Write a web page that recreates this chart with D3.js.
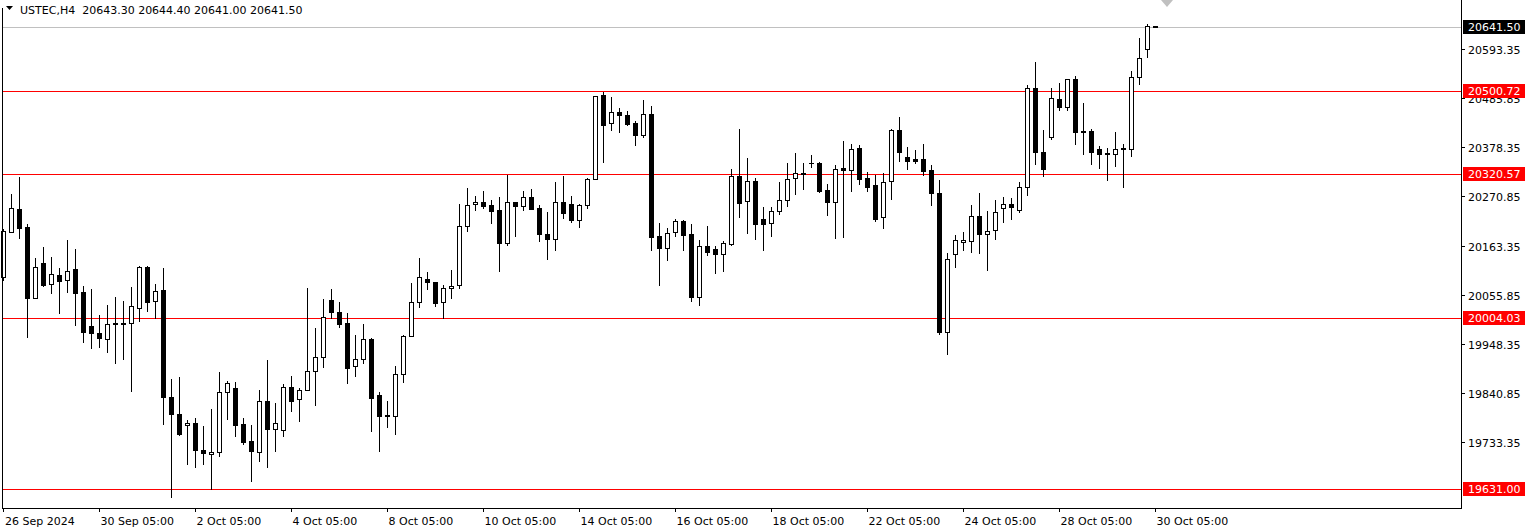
<!DOCTYPE html>
<html>
<head>
<meta charset="utf-8">
<script src="https://cdn.jsdelivr.net/npm/d3@7"></script>
<style>
body { margin: 0; background: #fff; }
text { font-family: "DejaVu Sans", sans-serif; font-size: 11px; }
</style>
</head>
<body>
<svg id="chart" width="1533" height="531"></svg>
<script>
// H4 candles, [open, high, low, close], from 26 Sep 05:00
var candles = [
	[20095,20200,20089,20196],[20194,20277,20194,20246],[20244,20314,20180,20202],[20205,20211,19964,20049],
	[20049,20137,20049,20117],[20126,20161,20075,20078],[20080,20139,20060,20102],[20100,20115,20016,20086],
	[20089,20176,20062,20108],[20113,20156,19990,20060],[20062,20075,19953,19975],[19988,20069,19940,19973],
	[19973,20012,19942,19962],[19960,20034,19931,19992],[19995,20051,19907,19992],[19995,20043,19916,19992],
	[19995,20073,19846,20032],[20027,20119,19999,20117],[20117,20119,20021,20040],[20043,20080,20006,20065],
	[20067,20115,19774,19833],[19833,19872,19614,19796],[19796,19877,19750,19752],[19772,19782,19686,19776],
	[19776,19787,19680,19717],[19717,19769,19686,19710],[19708,19807,19631,19712],[19712,19887,19704,19844],
	[19844,19868,19785,19863],[19852,19866,19748,19772],[19774,19787,19730,19734],[19737,19772,19649,19715],
	[19712,19848,19693,19824],[19824,19914,19680,19763],[19763,19820,19715,19776],[19761,19861,19748,19855],
	[19855,19879,19802,19824],[19828,19852,19780,19848],[19848,20071,19848,19890],[19890,19984,19815,19920],
	[19920,20047,19898,20008],[20045,20069,20006,20019],[20019,20040,19986,19992],[19995,20016,19863,19896],
	[19901,19968,19879,19916],[19916,19992,19907,19960],[19960,19962,19758,19831],[19837,19844,19715,19791],
	[19793,19824,19767,19791],[19791,19901,19752,19883],[19883,19968,19866,19966],[19966,20082,19966,20040],
	[20040,20137,20030,20095],[20091,20106,20069,20084],[20084,20084,20032,20038],[20040,20078,20006,20071],
	[20071,20111,20049,20075],[20078,20255,20071,20207],[20207,20290,20196,20253],[20255,20272,20242,20259],
	[20259,20283,20246,20250],[20253,20264,20213,20239],[20242,20270,20108,20170],[20170,20318,20165,20259],
	[20259,20259,20185,20250],[20250,20283,20242,20270],[20270,20288,20244,20244],[20246,20253,20174,20189],
	[20189,20237,20135,20178],[20178,20303,20154,20259],[20259,20316,20224,20235],[20255,20272,20215,20220],
	[20220,20255,20205,20253],[20253,20312,20246,20309],[20309,20491,20309,20491],[20493,20499,20347,20427],
	[20432,20488,20416,20456],[20456,20465,20412,20449],[20449,20458,20427,20430],[20432,20436,20384,20405],
	[20405,20482,20401,20451],[20451,20469,20154,20183],[20185,20213,20078,20159],[20159,20202,20132,20191],
	[20194,20222,20185,20218],[20218,20220,20154,20187],[20189,20211,20043,20051],[20051,20176,20034,20163],
	[20163,20207,20143,20150],[20156,20163,20104,20146],[20146,20174,20108,20170],[20167,20331,20165,20316],
	[20316,20419,20226,20257],[20261,20355,20191,20305],[20305,20312,20178,20211],[20222,20248,20154,20211],
	[20213,20248,20185,20239],[20239,20303,20233,20264],[20264,20344,20250,20309],[20312,20366,20277,20323],
	[20320,20344,20288,20323],[20344,20362,20336,20345],[20344,20347,20281,20283],[20285,20299,20231,20259],
	[20259,20340,20180,20331],[20334,20392,20183,20329],[20329,20386,20283,20375],[20377,20384,20299,20309],
	[20312,20325,20283,20292],[20296,20318,20218,20222],[20226,20323,20202,20303],[20305,20419,20266,20416],
	[20416,20445,20349,20368],[20358,20379,20331,20349],[20353,20373,20344,20349],[20353,20386,20318,20327],
	[20329,20340,20253,20279],[20279,20307,19971,19975],[19975,20148,19927,20135],[20146,20187,20117,20176],
	[20172,20194,20154,20176],[20174,20253,20150,20229],[20229,20279,20148,20189],[20189,20239,20111,20196],
	[20198,20264,20178,20237],[20246,20270,20215,20255],[20255,20268,20222,20248],[20242,20303,20237,20292],
	[20292,20515,20274,20508],[20508,20565,20342,20368],[20368,20416,20316,20331],[20401,20508,20397,20486],
	[20484,20519,20460,20467],[20467,20528,20460,20528],[20528,20534,20386,20412],[20414,20475,20364,20412],
	[20414,20419,20342,20368],[20375,20381,20334,20364],[20364,20377,20307,20365],[20364,20412,20338,20375],
	[20375,20386,20292,20376],[20375,20545,20360,20532],[20532,20617,20517,20574],[20593,20648,20576,20643.3],
	[20643.3,20644.4,20641.0,20641.5]
];

var levels = [20500.72, 20320.57, 20004.03, 19631.00];
var lastPrice = 20641.50;
var priceTicks = [20593.35, 20485.85, 20378.35, 20270.85, 20163.35, 20055.85, 19948.35, 19840.85, 19733.35];
var timeLabels = ["26 Sep 2024", "30 Sep 05:00", "2 Oct 05:00", "4 Oct 05:00", "8 Oct 05:00", "10 Oct 05:00",
	"14 Oct 05:00", "16 Oct 05:00", "18 Oct 05:00", "22 Oct 05:00", "24 Oct 05:00", "28 Oct 05:00", "30 Oct 05:00"];
var header = "USTEC,H4  20643.30 20644.40 20641.00 20641.50";

var svg = d3.select("#chart");
var plotRight = 1461, plotBottom = 508;

var x = d3.scaleLinear().domain([0, 1]).range([3, 11]);
var y = d3.scaleLinear().domain([19631, 20641.5]).range([489, 27]);

// price levels
svg.selectAll("line.level").data(levels).enter().append("line")
	.attr("x1", 2).attr("x2", plotRight)
	.attr("y1", function (d) { return Math.round(y(d)) + 0.5; })
	.attr("y2", function (d) { return Math.round(y(d)) + 0.5; })
	.attr("stroke", "#ff0000").attr("stroke-width", 1);

svg.append("line")
	.attr("x1", 2).attr("x2", plotRight)
	.attr("y1", Math.round(y(lastPrice)) + 0.5).attr("y2", Math.round(y(lastPrice)) + 0.5)
	.attr("stroke", "#c0c0c0");

// candles
var g = svg.append("g");
candles.forEach(function (c, i) {
	var cx = Math.round(x(i)) + 0.5;
	var bull = c[3] >= c[0];
	g.append("line")
		.attr("x1", cx).attr("x2", cx)
		.attr("y1", Math.round(y(c[1]))).attr("y2", Math.round(y(c[2])) + 1)
		.attr("stroke", "#000");
	var top = Math.round(y(Math.max(c[0], c[3])));
	var bot = Math.round(y(Math.min(c[0], c[3])));
	if (bot - top < 1) {
		g.append("line")
			.attr("x1", cx - 2.5).attr("x2", cx + 2.5)
			.attr("y1", top + 0.5).attr("y2", top + 0.5)
			.attr("stroke", "#000");
	} else {
		g.append("rect")
			.attr("x", cx - 2).attr("y", top + 0.5)
			.attr("width", 4).attr("height", bot - top)
			.attr("fill", bull ? "#fff" : "#000")
			.attr("stroke", "#000");
	}
});

// frame
svg.append("line").attr("x1", 2.5).attr("x2", 2.5).attr("y1", 8).attr("y2", plotBottom).attr("stroke", "#000");
svg.append("line").attr("x1", 2).attr("x2", plotRight + 1).attr("y1", plotBottom + 0.5).attr("y2", plotBottom + 0.5).attr("stroke", "#000");
svg.append("line").attr("x1", plotRight + 0.5).attr("x2", plotRight + 0.5).attr("y1", 0).attr("y2", plotBottom).attr("stroke", "#000");

// shift marker
svg.append("path").attr("d", "M1161,0 L1173,0 L1167,7 Z").attr("fill", "#c0c0c0");

// price axis
priceTicks.forEach(function (p) {
	var py = Math.round(y(p)) + 0.5;
	svg.append("line").attr("x1", plotRight).attr("x2", plotRight + 4).attr("y1", py).attr("y2", py).attr("stroke", "#000");
	svg.append("text").attr("x", 1468).attr("y", py + 4).text(p.toFixed(2));
});

function priceLabel(p, fill) {
	var py = Math.round(y(p));
	svg.append("rect").attr("x", 1463).attr("y", py - 7).attr("width", 62).attr("height", 14).attr("fill", fill);
	svg.append("text").attr("x", 1468).attr("y", py + 4).attr("fill", "#fff").text(p.toFixed(2));
}
levels.forEach(function (p) { priceLabel(p, "#ff0000"); });
priceLabel(lastPrice, "#000");

// time axis
timeLabels.forEach(function (t, k) {
	var tx = Math.round(x(k * 12)) + 0.5;
	svg.append("line").attr("x1", tx).attr("x2", tx).attr("y1", plotBottom).attr("y2", plotBottom + 4).attr("stroke", "#000");
	svg.append("text").attr("x", k === 0 ? 5 : tx + 1).attr("y", 525).text(t);
});

// header
svg.append("path").attr("d", "M6,6 L13,6 L9.5,10 Z").attr("fill", "#000");
svg.append("text").attr("x", 20).attr("y", 14).attr("xml:space", "preserve").text(header);
</script>
</body>
</html>
